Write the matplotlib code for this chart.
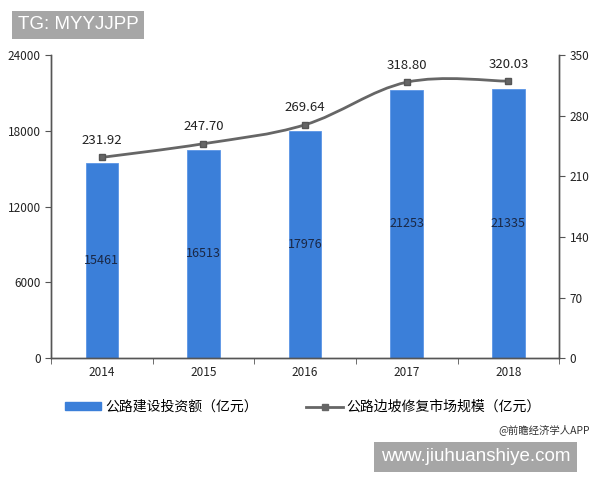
import matplotlib.pyplot as plt
import numpy as np
from matplotlib.path import Path
from matplotlib.patches import PathPatch, Patch
from matplotlib.lines import Line2D

plt.rcParams['font.family'] = ['Noto Sans CJK SC', 'DejaVu Sans']

years = ['2014', '2015', '2016', '2017', '2018']
invest = [15461, 16513, 17976, 21253, 21335]
repair = [231.92, 247.70, 269.64, 318.80, 320.03]
left_ticks = [0, 6000, 12000, 18000, 24000]
right_ticks = [0, 70, 140, 210, 280, 350]

bar_color = '#3b7fd9'
line_color = '#666666'
axis_color = '#555555'

fig = plt.figure(figsize=(6, 4.8), dpi=100)
ax = fig.add_axes([0.085, 0.254, 0.847, 0.631])
ax2 = ax.twinx()

x = np.arange(len(years))
ax.bar(x, invest, width=0.32, color=bar_color, edgecolor='#5b95e6', linewidth=0.6, zorder=2)
for xi, v in zip(x, invest):
    ax.text(xi, v / 2, str(v), ha='center', va='center', fontsize=9, color='#1a2744',
            fontweight='medium', zorder=3)

ax.set_xlim(-0.5, len(years) - 0.5)
ax.set_ylim(0, 24000)
ax.set_yticks(left_ticks)
ax.set_xticks(x)
ax.set_xticklabels(years)
ax.set_xticks(np.arange(-0.5, len(years)), minor=True)
ax.tick_params(axis='x', which='major', length=0, pad=6, labelsize=8.5, colors='#222222')
ax.tick_params(axis='x', which='minor', length=4, direction='out', color=axis_color)
ax.tick_params(axis='y', length=4, labelsize=8.5, colors='#222222', color=axis_color)

ax2.set_ylim(0, 350)
ax2.set_yticks(right_ticks)
ax2.tick_params(axis='y', length=4, labelsize=8.5, colors='#222222', color=axis_color)

for a in (ax, ax2):
    a.spines['top'].set_visible(False)
    for s in ('left', 'right', 'bottom'):
        a.spines[s].set_color(axis_color)
        a.spines[s].set_linewidth(1.0)

# smooth line through the points (Catmull-Rom drawn as cubic Bezier)
px = list(x)
py = list(repair)
verts = [(px[0], py[0])]
codes = [Path.MOVETO]
t = 0.35
for i in range(len(px) - 1):
    x0, y0 = (px[i - 1], py[i - 1]) if i > 0 else (px[i], py[i])
    x1, y1 = px[i], py[i]
    x2, y2 = px[i + 1], py[i + 1]
    x3, y3 = (px[i + 2], py[i + 2]) if i + 2 < len(px) else (px[i + 1], py[i + 1])
    c1 = (x1 + (x2 - x0) * t / 2, y1 + (y2 - y0) * t / 2)
    c2 = (x2 - (x3 - x1) * t / 2, y2 - (y3 - y1) * t / 2)
    verts += [c1, c2, (x2, y2)]
    codes += [Path.CURVE4, Path.CURVE4, Path.CURVE4]
ax2.add_patch(PathPatch(Path(verts, codes), facecolor='none', edgecolor=line_color, linewidth=2, zorder=3))
ax2.plot(x, repair, linestyle='none', marker='s', markersize=5, color=line_color,
         markeredgecolor='#555555', zorder=4)
for xi, v in zip(x, repair):
    ax2.text(xi, v + 12, '%.2f' % v, ha='center', va='bottom', fontsize=9.5, color='#222222')

handles = [Patch(facecolor=bar_color, edgecolor=bar_color),
           Line2D([0], [0], color=line_color, lw=2, marker='s', markersize=5)]
labels = ['公路建设投资额（亿元）', '公路边坡修复市场规模（亿元）']
fig.legend(handles, labels, loc='center', bbox_to_anchor=(0.505, 0.152), ncol=2, frameon=False,
           fontsize=10, handlelength=2.6, handleheight=0.5, columnspacing=3.5, handletextpad=0.3,
           prop={'weight': 'medium', 'size': 10})

fig.text(0.983, 0.105, '@前瞻经济学人APP', ha='right', va='center', fontsize=7.5,
         color='#333333', fontweight='medium')
fig.text(0.03, 0.948, 'TG: MYYJJPP', ha='left', va='center', fontsize=13.5, color='white',
         family=['Liberation Sans', 'DejaVu Sans'],
         bbox=dict(boxstyle='square,pad=0.3', facecolor='#a6a6a6', edgecolor='none'))
fig.text(0.635, 0.048, 'www.jiuhuanshiye.com', ha='left', va='center', fontsize=13.5, color='white',
         family=['Liberation Sans', 'DejaVu Sans'],
         bbox=dict(boxstyle='square,pad=0.35', facecolor='#a6a6a6', edgecolor='none'))

fig.savefig('out.png', dpi=100)
